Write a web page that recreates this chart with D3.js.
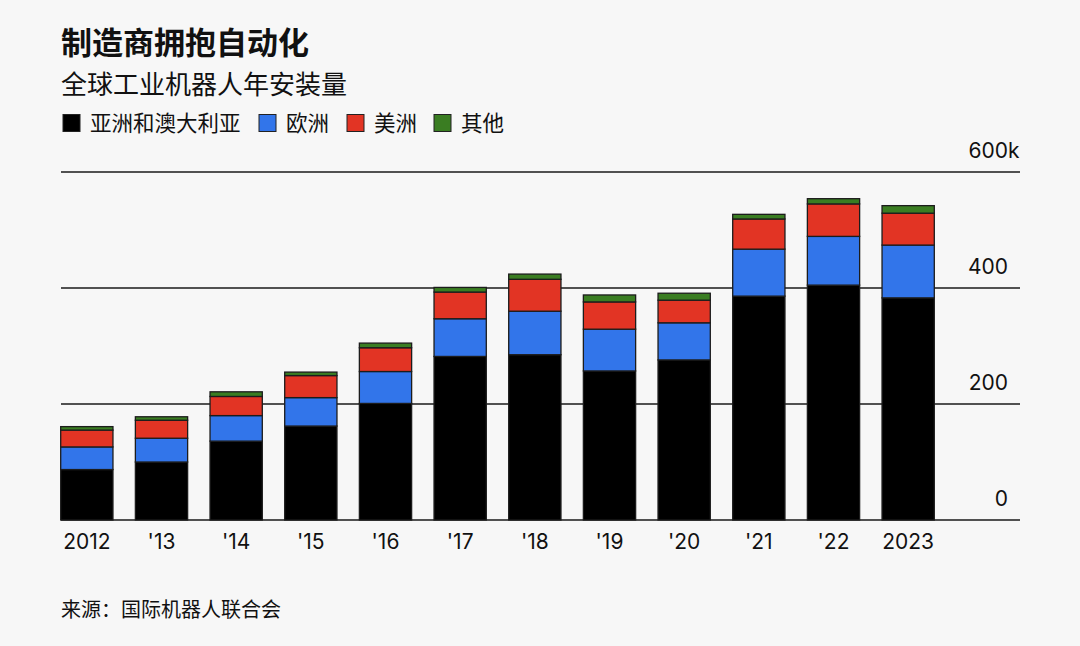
<!DOCTYPE html>
<html>
<head>
<meta charset="utf-8">
<script src="https://cdn.jsdelivr.net/npm/d3@7"></script>
<style>
  html, body { margin: 0; padding: 0; background: #f7f7f7; }
  svg { display: block; }
  .cjk { font-family: "Noto Sans CJK SC", sans-serif; fill: #111; }
  .num { font-family: Inter, "Liberation Sans", sans-serif; fill: #111; font-size: 21px; }
</style>
</head>
<body>
<svg width="1080" height="646"></svg>
<script>
// data, thousands of units
var years = ["2012", "'13", "'14", "'15", "'16", "'17", "'18", "'19", "'20", "'21", "'22", "2023"];
var asia = [87, 100, 136, 162, 201, 282, 285, 257, 276, 386, 405, 383];
var europe = [39, 41, 44, 49, 55, 65, 75, 72, 64, 81, 84, 91];
var americas = [29, 31, 33, 38, 41, 46, 55, 47, 39, 52, 56, 55];
var other = [6, 6, 8, 6, 8, 8, 9, 12, 12, 8, 9, 13];

var seriesKeys = ["asia", "europe", "americas", "other"];
var seriesNames = ["亚洲和澳大利亚", "欧洲", "美洲", "其他"];
var colors = ["#000000", "#3275ea", "#e23424", "#3a7d22"];
var yTicks = [0, 200, 400, 600];

var rows = years.map((y, i) => ({
  year: y, asia: asia[i], europe: europe[i], americas: americas[i], other: other[i]
}));

const svg = d3.select("svg");

const x = d3.scaleBand()
  .domain(years)
  .range([60.7, 934.3])
  .paddingInner(0.3)
  .paddingOuter(0);

const y = d3.scaleLinear()
  .domain([0, 600])
  .range([520, 172]);

const color = d3.scaleOrdinal().domain(seriesKeys).range(colors);

// title block
svg.append("text").attr("class", "cjk")
  .attr("x", 61).attr("y", 54)
  .attr("font-size", 31).attr("font-weight", 700)
  .text("制造商拥抱自动化");

svg.append("text").attr("class", "cjk")
  .attr("x", 61).attr("y", 94)
  .attr("font-size", 26)
  .text("全球工业机器人年安装量");

// legend
var legendX = [63, 259, 347, 434];
const legend = svg.append("g");
seriesKeys.forEach((k, i) => {
  legend.append("rect")
    .attr("x", legendX[i]).attr("y", 114.5)
    .attr("width", 17).attr("height", 17)
    .attr("fill", colors[i])
    .attr("stroke", "#222").attr("stroke-width", 1);
  legend.append("text").attr("class", "cjk")
    .attr("x", legendX[i] + 27).attr("y", 131)
    .attr("font-size", 21.5)
    .text(seriesNames[i]);
});

// gridlines
svg.append("g")
  .selectAll("line")
  .data(yTicks)
  .join("line")
  .attr("x1", 61).attr("x2", 1020)
  .attr("y1", d => y(d)).attr("y2", d => y(d))
  .attr("stroke", "#1a1a1a")
  .attr("stroke-width", 1.5);

svg.append("g")
  .selectAll("text")
  .data(yTicks)
  .join("text")
  .attr("class", "num")
  .attr("x", 1008)
  .attr("y", d => y(d) - 14)
  .attr("text-anchor", "end")
  .text(d => d);

svg.append("text").attr("class", "num")
  .attr("x", 1008).attr("y", y(600) - 14)
  .text("k");

// stacked bars
const stacked = d3.stack().keys(seriesKeys)(rows);

svg.append("g")
  .selectAll("g")
  .data(stacked)
  .join("g")
  .attr("fill", d => color(d.key))
  .selectAll("rect")
  .data(d => d)
  .join("rect")
  .attr("x", d => x(d.data.year))
  .attr("width", x.bandwidth())
  .attr("y", d => y(d[1]))
  .attr("height", d => y(d[0]) - y(d[1]))
  .attr("stroke", "#1c1c1c")
  .attr("stroke-width", 1.3);

// x labels
svg.append("g")
  .selectAll("text")
  .data(years)
  .join("text")
  .attr("class", "num")
  .attr("x", d => x(d) + x.bandwidth() / 2)
  .attr("y", 549)
  .attr("text-anchor", "middle")
  .text(d => d);

// source
svg.append("text").attr("class", "cjk")
  .attr("x", 61).attr("y", 617)
  .attr("font-size", 20)
  .text("来源：国际机器人联合会");
</script>
</body>
</html>
